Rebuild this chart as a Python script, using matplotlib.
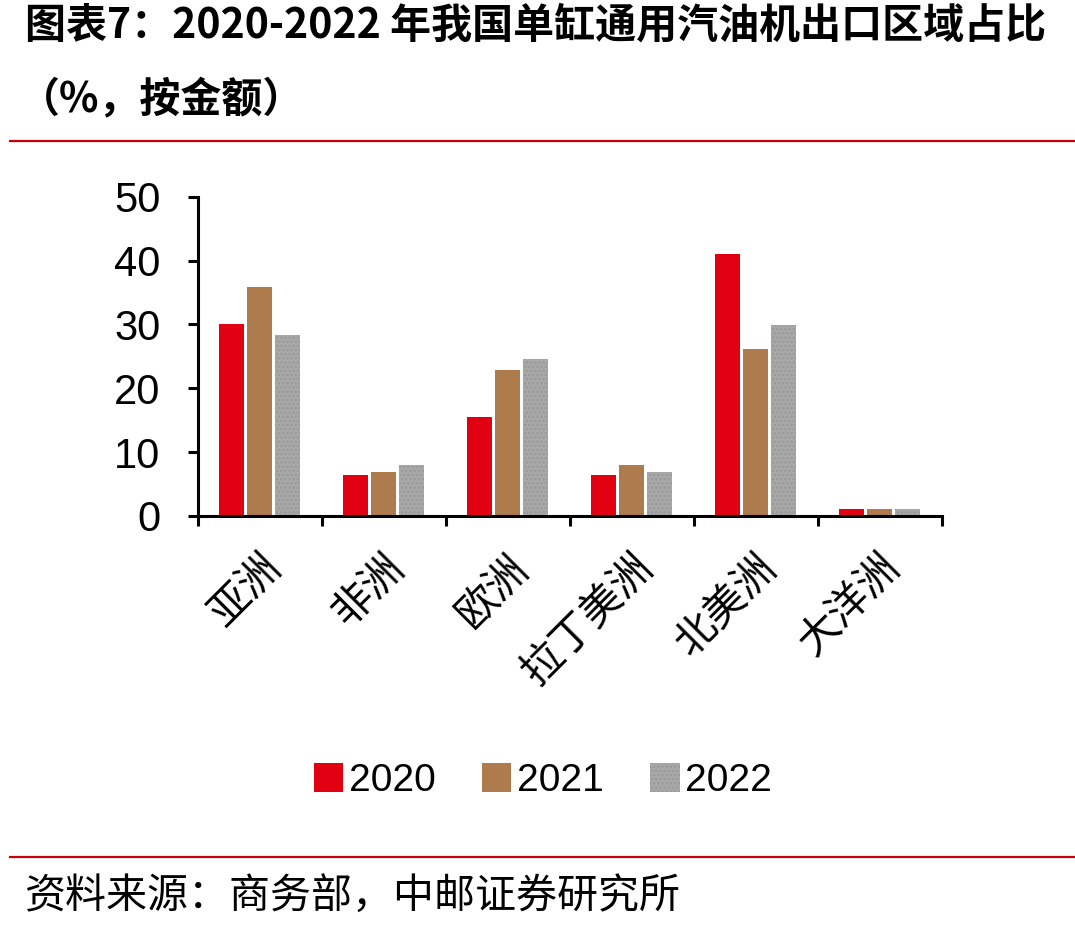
import matplotlib
matplotlib.use("Agg")
import matplotlib.pyplot as plt
import matplotlib.transforms as mtransforms
import numpy as np
from matplotlib.lines import Line2D

plt.rcParams['font.family'] = ['Liberation Sans', 'Noto Sans CJK SC', 'DejaVu Sans']
plt.rcParams['hatch.linewidth'] = 1.2

# data (%, by export value)
regions = ['亚洲', '非洲', '欧洲', '拉丁美洲', '北美洲', '大洋洲']
years = ['2020', '2021', '2022']
v2020 = [30.0, 6.4, 15.5, 6.4, 41.1, 1.1]
v2021 = [35.8, 6.9, 22.9, 8.0, 26.2, 1.1]
v2022 = [28.4, 8.0, 24.6, 6.9, 29.9, 1.1]
y_ticks = [0, 10, 20, 30, 40, 50]

colors = ['#E00012', '#AD7B4C', '#A8A8A8']

fig = plt.figure(figsize=(10.75, 9.33), dpi=100)
ax = fig.add_axes([0.184, 0.447, 0.692, 0.342])

x = np.arange(len(regions)) + 0.5
w = 0.2
off = 0.226
ax.bar(x - off, v2020, w, color=colors[0], label=years[0])
ax.bar(x, v2021, w, color=colors[1], label=years[1])
ax.bar(x + off, v2022, w, color=colors[2], label=years[2],
       hatch='....', edgecolor='#999999', linewidth=0)

ax.set_xlim(0, len(regions))
ax.set_ylim(0, 50)
ax.set_yticks(y_ticks)
ax.set_xticks(np.arange(len(regions) + 1))
ax.set_xticklabels([])
ax.set_xticks(x, minor=True)
ax.set_xticklabels(regions, minor=True, rotation=45, ha='right', va='top',
                   rotation_mode='anchor', fontsize=30,
                   family=['Noto Sans CJK SC', 'DejaVu Sans'])
shift = mtransforms.ScaledTranslation(-8 / 100, 0, fig.dpi_scale_trans)
for lab in ax.get_xticklabels(minor=True):
    lab.set_transform(lab.get_transform() + shift)

for s in ['top', 'right']:
    ax.spines[s].set_visible(False)
for s in ['left', 'bottom']:
    ax.spines[s].set_linewidth(2.2)

ax.tick_params(axis='y', which='major', length=7, width=2.2, labelsize=30, pad=20)
ax.tick_params(axis='x', which='major', length=7, width=2.2, direction='out')
ax.tick_params(axis='x', which='minor', length=0, pad=22)

handles, labels = ax.get_legend_handles_labels()
fig.legend(handles, labels, loc='center', bbox_to_anchor=(0.505, 0.163), ncol=3,
           frameon=False, fontsize=28, handlelength=0.75, handleheight=0.8,
           handletextpad=0.15, columnspacing=1.2)

# title
fig.text(0.023, 0.973, '图表7：2020-2022 年我国单缸通用汽油机出口区域占比',
         fontsize=29.5, fontweight='bold', va='center', ha='left',
         family=['Noto Sans CJK SC', 'DejaVu Sans'])
fig.text(0.018, 0.893, '（%，按金额）', fontsize=29.5, fontweight='bold',
         va='center', ha='left', family=['Noto Sans CJK SC', 'DejaVu Sans'])

# red rules
fig.add_artist(Line2D([0.009, 1.0], [1 - 141 / 933] * 2, color='#C8000A', lw=1.6))
fig.add_artist(Line2D([0.009, 1.0], [1 - 857 / 933] * 2, color='#C8000A', lw=1.6))

fig.text(0.023, 1 - 897 / 933, '资料来源：商务部，中邮证券研究所', fontsize=29.5,
         va='center', ha='left', family=['Noto Sans CJK SC', 'DejaVu Sans'])

fig.savefig('out.png', dpi=100)
